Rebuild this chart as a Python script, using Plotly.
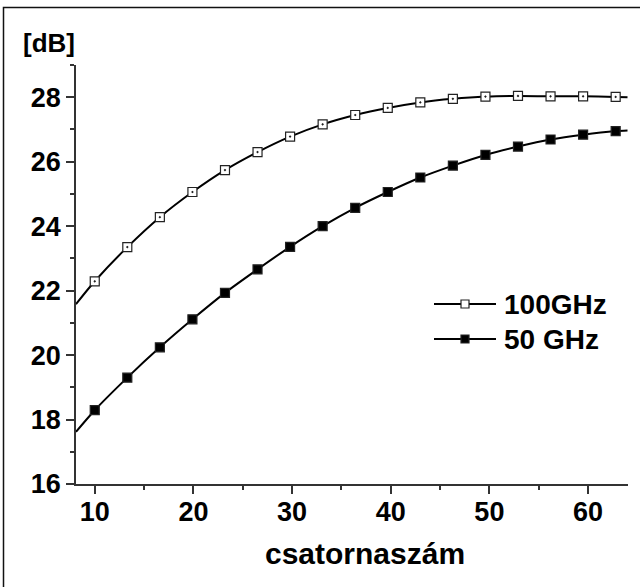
import plotly.graph_objects as go

# ---- data ----
channels = [10.0, 13.3, 16.6, 19.9, 23.2, 26.5, 29.8, 33.1, 36.4, 39.7, 43.0, 46.3, 49.6, 52.9, 56.2, 59.5, 62.8]
db_100ghz = [22.29, 23.35, 24.28, 25.06, 25.74, 26.30, 26.78, 27.16, 27.45, 27.67, 27.84, 27.95, 28.02, 28.04, 28.03, 28.03, 28.01]
db_50ghz = [18.29, 19.30, 20.24, 21.11, 21.93, 22.66, 23.36, 24.00, 24.57, 25.06, 25.51, 25.88, 26.21, 26.47, 26.69, 26.84, 26.95]

# curve end values where the fitted lines meet the axis frame
edge_x = [8.1, 64.0]
edge_100ghz = [21.58, 28.00]
edge_50ghz = [17.62, 26.97]

series_names = ["100GHz", "50 GHz"]
x_title = "csatornaszám"
y_title = "[dB]"

FONT = "Liberation Sans, Arial, sans-serif"

fig = go.Figure()

def curve(values, edges):
    xs = [edge_x[0]] + channels + [edge_x[1]]
    ys = [edges[0]] + values + [edges[1]]
    return xs, ys

for vals, edges, sym, fill in [
    (db_100ghz, edge_100ghz, "square-dot", "white"),
    (db_50ghz, edge_50ghz, "square", "black"),
]:
    cx, cy = curve(vals, edges)
    fig.add_trace(go.Scatter(x=cx, y=cy, mode="lines", line=dict(color="black", width=2, shape="spline", smoothing=0.8),
                             showlegend=False, hoverinfo="skip"))
    fig.add_trace(go.Scatter(x=channels, y=vals, mode="markers",
                             marker=dict(symbol=sym, size=9, color=fill, line=dict(color="#222", width=1.2)),
                             showlegend=False))

W, H = 640, 587
ml, mr, mt, mb = 76, 12, 65, 103
pw, ph = W - ml - mr, H - mt - mb

def px(x):
    return (x - ml) / pw

def py(y):
    return 1 - (y - mt) / ph

shapes = []
annotations = []

# outer frame (only top and left visible in the reference)
shapes.append(dict(type="rect", xref="paper", yref="paper", x0=px(3.5), x1=px(700), y0=py(600), y1=py(7.5),
                   line=dict(color="#111", width=1.5), fillcolor="rgba(0,0,0,0)", layer="below"))

# custom legend
leg_rows = [304, 339]
for name, ly, sym_fill in zip(series_names, leg_rows, ["white", "black"]):
    shapes.append(dict(type="line", xref="paper", yref="paper", x0=px(434), x1=px(496), y0=py(ly), y1=py(ly),
                       line=dict(color="black", width=2)))
    shapes.append(dict(type="rect", xref="paper", yref="paper", x0=px(461), x1=px(469), y0=py(ly + 4), y1=py(ly - 4),
                       line=dict(color="#222", width=1.2), fillcolor=sym_fill))
    annotations.append(dict(text=name, xref="paper", yref="paper", x=px(502), y=py(ly), xanchor="left", yanchor="middle",
                            showarrow=False, font=dict(family=FONT, size=28, color="black", weight="bold")))

annotations.append(dict(text=y_title, xref="paper", yref="paper", x=px(49), y=py(43), xanchor="center", yanchor="middle",
                        showarrow=False, font=dict(family=FONT, size=26, color="black", weight="bold")))
annotations.append(dict(text=x_title, xref="paper", yref="paper", x=px(365), y=py(553), xanchor="center", yanchor="middle",
                        showarrow=False, font=dict(family=FONT, size=30, color="black", weight="bold")))

axis_common = dict(showgrid=False, zeroline=False, showline=True, linecolor="#333", linewidth=1.5,
                   ticks="outside", ticklen=8, tickwidth=1.5, tickcolor="#333",
                   tickfont=dict(family=FONT, size=27, color="black", weight="bold"))

fig.update_layout(
    width=W, height=H,
    margin=dict(l=ml, r=mr, t=mt, b=mb),
    paper_bgcolor="white", plot_bgcolor="white",
    showlegend=False,
    shapes=shapes, annotations=annotations,
    xaxis=dict(range=[8.1, 64.05], tick0=10, dtick=10, ticklabelstandoff=-5,
               minor=dict(ticks="outside", ticklen=4, tickwidth=1.5, tickcolor="#333", dtick=5, tick0=5),
               **axis_common),
    yaxis=dict(range=[16, 29.001], tick0=16, dtick=2,
               minor=dict(ticks="outside", ticklen=4, tickwidth=1.5, tickcolor="#333", dtick=1, tick0=17),
               **axis_common),
)

fig.write_html("out.html", config={"displayModeBar": False},
               post_script="document.body.style.margin='0';document.body.style.padding='0';")
